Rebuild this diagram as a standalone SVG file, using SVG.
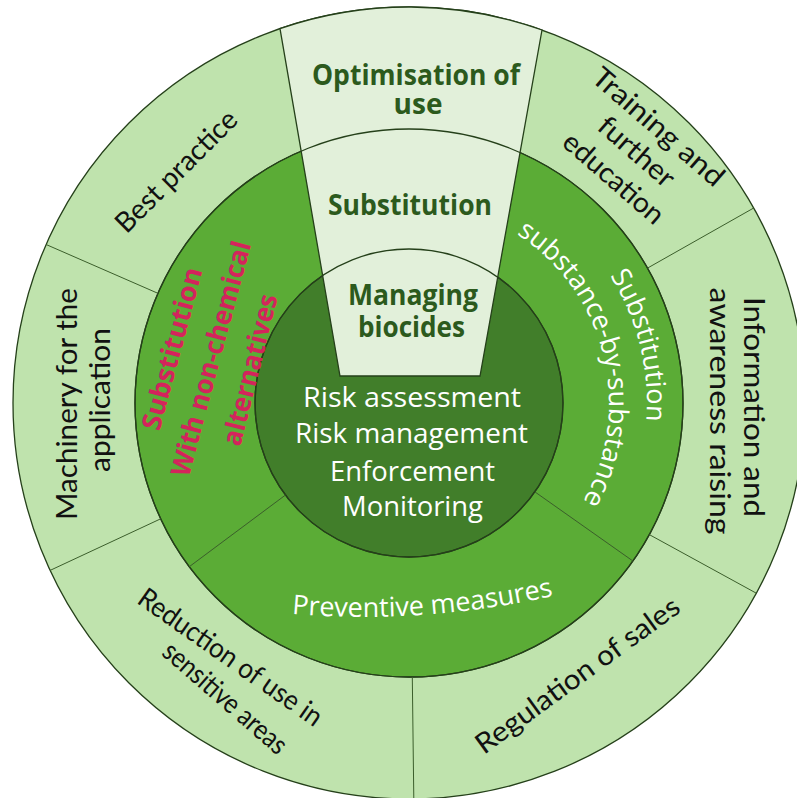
<svg xmlns="http://www.w3.org/2000/svg" width="797" height="798" viewBox="0 0 797 798">
<style>
.ring{stroke:#25401a;stroke-width:1.3}
.line{stroke:#25401a;stroke-width:1.3;fill:none}
.div{stroke:#3b5e2b;stroke-width:1;fill:none}
.ot{font-family:Lato,"Liberation Sans",sans-serif;font-size:28px;fill:#111;text-anchor:middle}
.wt{font-family:"Open Sans","Noto Sans",sans-serif;font-weight:bold;font-size:28px;fill:#2c5a1d;text-anchor:middle}
.ht{font-family:"Open Sans","Noto Sans",sans-serif;font-size:27px;fill:#fff;text-anchor:middle}
.rt{font-family:"Open Sans","Noto Sans",sans-serif;font-weight:bold;font-size:27px;fill:#d4245c;text-anchor:middle}
</style>
<defs>
<path id="arcW1" d="M513.3,189.1 A238,238 0 0 1 601.5,542.9"/>
<path id="arcW2" d="M496.7,223.2 A200,200 0 0 1 570.8,520.6"/>
<path id="arcP" d="M275,612 Q420,628 570,592"/>
</defs>
<rect width="797" height="798" fill="#fff"/>
<g id="outer-ring"><circle cx="409" cy="403" r="396" fill="#bfe3ad" class="ring"/></g>
<g id="middle-ring"><circle cx="409" cy="403" r="274" fill="#5bac36" class="ring"/></g>
<g id="inner-circle"><circle cx="409" cy="403" r="154" fill="#417e2a" class="ring"/></g>
<g id="managing-biocides-wedge"><path d="M280,28.6 A396,396 0 0 1 542,30 L480,376 L340,376 Z" fill="#e2f0da" class="ring"/></g>
<g id="ring-lines">
<circle cx="409" cy="403" r="274" class="line"/>
<circle cx="409" cy="403" r="154" class="line"/>
</g>
<g id="connectors">
<line class="div" x1="157.9" y1="293.3" x2="46.1" y2="244.5"/>
<line class="div" x1="160.7" y1="518.8" x2="50.1" y2="570.4"/>
<line class="div" x1="412.3" y1="677" x2="413.8" y2="799"/>
<line class="div" x1="649.3" y1="534.6" x2="756.3" y2="593.2"/>
<line class="div" x1="647.5" y1="268.1" x2="753.7" y2="208"/>
<line class="div" x1="285.5" y1="495" x2="189.3" y2="566.7"/>
<line class="div" x1="534.8" y1="491.8" x2="632.9" y2="561"/>
</g>
<g id="optimisation">
<text class="wt" x="416" y="85" textLength="208" lengthAdjust="spacingAndGlyphs">Optimisation of</text>
<text class="wt" x="418" y="114">use</text>
</g>
<g id="substitution-wedge">
<text class="wt" x="410" y="215" textLength="164" lengthAdjust="spacingAndGlyphs">Substitution</text>
</g>
<g id="managing-biocides">
<text class="wt" x="413" y="305" textLength="130" lengthAdjust="spacingAndGlyphs">Managing</text>
<text class="wt" x="411.5" y="337" textLength="107" lengthAdjust="spacingAndGlyphs">biocides</text>
</g>
<g id="core">
<text class="ht" x="412" y="407" textLength="218" lengthAdjust="spacingAndGlyphs">Risk assessment</text>
<text class="ht" x="411.5" y="443" textLength="233" lengthAdjust="spacingAndGlyphs">Risk management</text>
<text class="ht" x="412.5" y="481" textLength="165" lengthAdjust="spacingAndGlyphs">Enforcement</text>
<text class="ht" x="412.5" y="516" textLength="141" lengthAdjust="spacingAndGlyphs">Monitoring</text>
</g>
<g id="non-chemical">
<text class="rt" transform="translate(181,351) rotate(-75)">Substitution</text>
<text class="rt" transform="translate(220,361) rotate(-75)" textLength="242" lengthAdjust="spacingAndGlyphs">With non-chemical</text>
<text class="rt" transform="translate(259,372) rotate(-76)" textLength="155" lengthAdjust="spacingAndGlyphs">alternatives</text>
</g>
<g id="substance-by-substance">
<text class="ht"><textPath href="#arcW1" startOffset="50%">Substitution</textPath></text>
<text class="ht" font-size="26"><textPath href="#arcW2" startOffset="50%">substance-by-substance</textPath></text>
</g>
<g id="preventive">
<text class="ht"><textPath href="#arcP" startOffset="50%">Preventive measures</textPath></text>
</g>
<g id="best-practice">
<text class="ot" transform="translate(183,178) rotate(-45)" textLength="160" lengthAdjust="spacingAndGlyphs">Best practice</text>
</g>
<g id="training">
<g transform="translate(652,134) rotate(41)">
<text class="ot" x="0" y="0" textLength="165" lengthAdjust="spacingAndGlyphs">Training and</text>
<text class="ot" x="0" y="33" textLength="92" lengthAdjust="spacingAndGlyphs">further</text>
<text class="ot" x="0" y="68" textLength="124" lengthAdjust="spacingAndGlyphs">education</text>
</g>
</g>
<g id="information">
<g transform="translate(744,407) rotate(90)">
<text class="ot" x="0" y="0" textLength="220" lengthAdjust="spacingAndGlyphs">Information and</text>
<text class="ot" x="4" y="34" textLength="247" lengthAdjust="spacingAndGlyphs">awareness raising</text>
</g>
</g>
<g id="machinery">
<g transform="translate(77,404) rotate(-90)">
<text class="ot" x="0" y="0" textLength="232" lengthAdjust="spacingAndGlyphs">Machinery for the</text>
<text class="ot" x="4" y="33" textLength="144" lengthAdjust="spacingAndGlyphs">application</text>
</g>
</g>
<g id="reduction">
<text class="ot" transform="translate(225,665) rotate(35)" textLength="218" lengthAdjust="spacingAndGlyphs">Reduction of use in</text>
<text class="ot" transform="translate(219,705) rotate(41)" textLength="155" lengthAdjust="spacingAndGlyphs">sensitive areas</text>
</g>
<g id="regulation">
<text class="ot" transform="translate(583,683) rotate(-36)" textLength="245" lengthAdjust="spacingAndGlyphs">Regulation of sales</text>
</g>
</svg>
